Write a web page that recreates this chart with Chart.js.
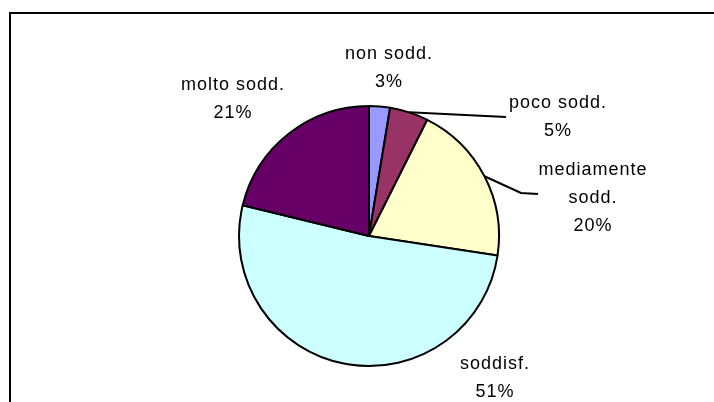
<!DOCTYPE html>
<html>
<head>
    <title>Soddisfazione</title>
    <script src="https://cdn.jsdelivr.net/npm/chart.js"></script>
    <style>
        html, body { margin: 0; padding: 0; background: #fff; }
        .chart-container { width: 714px; height: 402px; position: relative; }
    </style>
</head>
<body>
    <div class="chart-container">
        <canvas id="pieChart" width="714" height="402"></canvas>
    </div>
<script>
    // data (clockwise from 12 o'clock)
    const categories = ['non sodd.', 'poco sodd.', 'mediamente sodd.', 'soddisf.', 'molto sodd.'];
    const labelLines = [['non sodd.'], ['poco sodd.'], ['mediamente', 'sodd.'], ['soddisf.'], ['molto sodd.']];
    const values = [2.6, 4.8, 20.0, 51.4, 21.2];
    const colors = ['#9999FF', '#993366', '#FFFFCC', '#CCFFFF', '#660066'];

    // label anchor (centre of first text line) and leader lines, relative to canvas
    const labelPos = [
        { x: 389, y: 54 },
        { x: 558, y: 103 },
        { x: 593, y: 170 },
        { x: 495, y: 364 },
        { x: 233, y: 85 }
    ];
    const leaders = [
        null,
        [{ x: 506, y: 117 }],
        [{ x: 521, y: 193 }, { x: 538, y: 194 }],
        null,
        null
    ];

    const labelPlugin = {
        id: 'pieLabels',
        beforeDraw(chart) {
            const ctx = chart.ctx;
            ctx.save();
            ctx.strokeStyle = '#000';
            ctx.lineWidth = 2;
            ctx.beginPath();
            ctx.moveTo(10, 402);
            ctx.lineTo(10, 13);
            ctx.lineTo(714, 13);
            ctx.stroke();
            ctx.restore();
        },
        afterDraw(chart) {
            const ctx = chart.ctx;
            const meta = chart.getDatasetMeta(0);
            const total = values.reduce((a, b) => a + b, 0);
            ctx.save();
            ctx.fillStyle = '#000';
            ctx.strokeStyle = '#000';
            ctx.lineWidth = 2;
            ctx.font = '18px "Liberation Sans", Arial, sans-serif';
            ctx.textAlign = 'center';
            ctx.textBaseline = 'middle';
            if ('letterSpacing' in ctx) ctx.letterSpacing = '1px';
            meta.data.forEach((arc, i) => {
                const p = arc.getProps(['x', 'y', 'startAngle', 'endAngle', 'outerRadius'], true);
                if (leaders[i]) {
                    const mid = (p.startAngle + p.endAngle) / 2;
                    ctx.beginPath();
                    ctx.moveTo(p.x + Math.cos(mid) * p.outerRadius, p.y + Math.sin(mid) * p.outerRadius);
                    leaders[i].forEach(pt => ctx.lineTo(pt.x, pt.y));
                    ctx.stroke();
                }
                const lines = labelLines[i].concat([Math.round(values[i] / total * 100) + '%']);
                lines.forEach((t, k) => {
                    ctx.fillText(t, labelPos[i].x, labelPos[i].y + k * 28);
                });
            });
            ctx.restore();
        }
    };

    new Chart(document.getElementById('pieChart').getContext('2d'), {
        type: 'pie',
        data: {
            labels: categories,
            datasets: [{
                data: values,
                backgroundColor: colors,
                borderColor: '#000',
                borderWidth: 2
            }]
        },
        options: {
            responsive: false,
            animation: false,
            devicePixelRatio: 1,
            radius: 130,
            layout: { padding: { left: 239, right: 215, top: 106, bottom: 36 } },
            plugins: {
                legend: { display: false },
                tooltip: { enabled: false }
            }
        },
        plugins: [labelPlugin]
    });
</script>
</body>
</html>
